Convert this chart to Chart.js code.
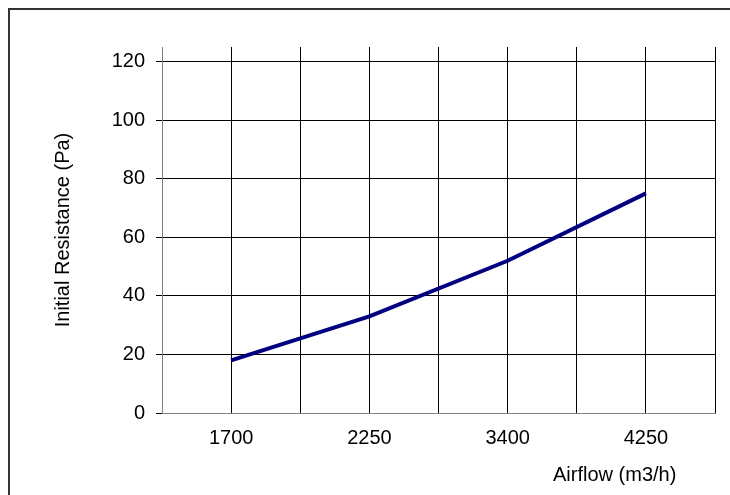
<!DOCTYPE html>
<html>
<head>
<meta charset="utf-8">
<script src="https://cdn.jsdelivr.net/npm/chart.js@4"></script>
<style>
  html, body { margin: 0; padding: 0; background: #ffffff; }
  #c { display: block; }
</style>
</head>
<body>
<canvas id="c" width="730" height="495"></canvas>
<script>
// ---- data ----
const categories = ['1700', '2250', '3400', '4250'];
const resistance = [18, 33, 52, 75];
const yTickValues = [0, 20, 40, 60, 80, 100, 120];
const xAxisTitle = 'Airflow (m3/h)';
const yAxisTitle = 'Initial Resistance (Pa)';

// each category sits at the centre of a two-cell band
const points = resistance.map((v, i) => ({ x: 2 * i + 1, y: v }));

Chart.defaults.font.family = '"Liberation Sans", Arial, sans-serif';
Chart.defaults.font.size = 20;
Chart.defaults.color = '#000000';

const framePlugin = {
  id: 'frame',
  beforeDraw(chart) {
    const ctx = chart.ctx;
    ctx.save();
    ctx.fillStyle = '#ffffff';
    ctx.fillRect(0, 0, chart.width, chart.height);
    ctx.strokeStyle = '#333333';
    ctx.lineWidth = 2;
    ctx.beginPath();
    ctx.moveTo(9, chart.height);
    ctx.lineTo(9, 9);
    ctx.lineTo(chart.width, 9);
    ctx.stroke();
    ctx.restore();
  },
  afterDraw(chart) {
    const ctx = chart.ctx;
    ctx.save();
    ctx.font = '20px "Liberation Sans", Arial, sans-serif';
    ctx.fillStyle = '#000000';
    ctx.textAlign = 'left';
    ctx.textBaseline = 'alphabetic';
    ctx.fillText(xAxisTitle, 553, 481);
    ctx.restore();
  }
};

new Chart(document.getElementById('c'), {
  type: 'line',
  data: {
    datasets: [{
      data: points,
      borderColor: '#000080',
      backgroundColor: '#000080',
      borderWidth: 4,
      pointRadius: 0,
      tension: 0,
      fill: false
    }]
  },
  options: {
    responsive: false,
    animation: false,
    devicePixelRatio: 1,
    layout: { padding: { left: 0, top: 47, right: 15, bottom: 0 } },
    plugins: { legend: { display: false }, tooltip: { enabled: false } },
    scales: {
      x: {
        type: 'linear',
        min: 0,
        max: 2 * categories.length,
        afterFit(s) { s.height = 82; },
        ticks: {
          stepSize: 1,
          autoSkip: false,
          maxRotation: 0,
          padding: 13,
          font: { size: 20 },
          color: '#000000',
          callback(v) {
            return (v % 2 === 1) ? categories[(v - 1) / 2] : '';
          }
        },
        grid: { color: '#000000', lineWidth: 1, drawTicks: false },
        border: { display: true, color: '#808080', width: 1 }
      },
      y: {
        min: 0,
        max: 125,
        afterFit(s) { s.width = 162; },
        afterBuildTicks(s) {
          s.ticks = yTickValues.map(v => ({ value: v }));
        },
        ticks: {
          stepSize: 20,
          padding: 11,
          font: { size: 20 },
          color: '#000000'
        },
        grid: { color: '#000000', lineWidth: 1, drawTicks: true, tickLength: 6 },
        border: { display: true, color: '#808080', width: 1 },
        title: {
          display: true,
          text: yAxisTitle,
          font: { size: 20 },
          color: '#000000',
          padding: { top: 51, bottom: 0 }
        }
      }
    }
  },
  plugins: [framePlugin]
});
</script>
</body>
</html>
